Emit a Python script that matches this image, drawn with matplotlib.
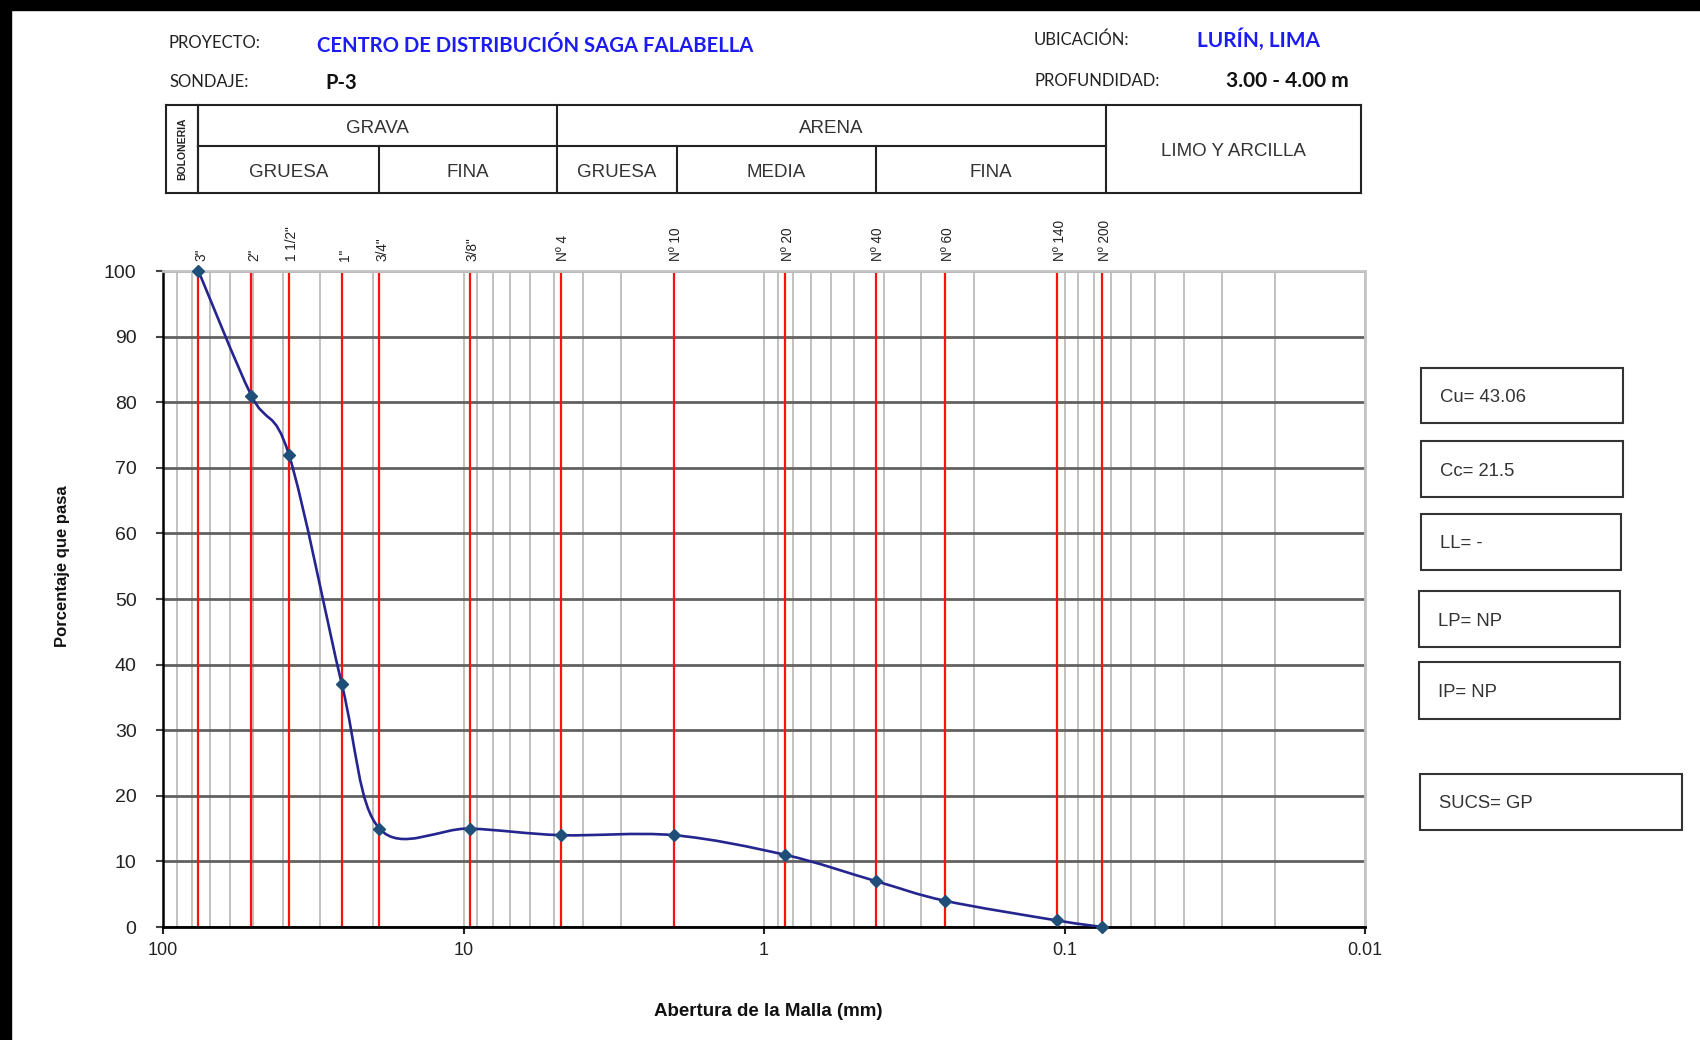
import matplotlib
matplotlib.use("Agg")
import matplotlib.pyplot as plt
import matplotlib.transforms as mtransforms
from matplotlib.path import Path
from matplotlib.patches import PathPatch, Rectangle
from matplotlib.ticker import FixedLocator, LogLocator, NullFormatter, FixedFormatter
import numpy as np

# datos del ensayo granulometrico (P-3)
tamices = ['3"', '2"', '1 1/2"', '1"', '3/4"', '3/8"', 'Nº 4', 'Nº 10',
           'Nº 20', 'Nº 40', 'Nº 60', 'Nº 140', 'Nº 200']
abertura = [76.2, 50.8, 38.1, 25.4, 19.05, 9.525, 4.75, 2.0, 0.85, 0.425, 0.25, 0.106, 0.075]
pasa = [100, 81, 72, 37, 15, 15, 14, 14, 11, 7, 4, 1, 0]

# ejes
x_ticks = [100, 10, 1, 0.1, 0.01]
x_labels = ['100', '10', '1', '0.1', '0.01']
y_ticks = [0, 10, 20, 30, 40, 50, 60, 70, 80, 90, 100]

# tabla de clasificacion (limites en mm)
fila_sup = [('GRAVA', 76.2, 4.9), ('ARENA', 4.9, 0.073)]
fila_inf = [('GRUESA', 76.2, 19.05), ('FINA', 19.05, 4.9), ('GRUESA', 4.9, 1.95),
            ('MEDIA', 1.95, 0.425), ('FINA', 0.425, 0.073)]
bolo = ('BOLONERIA', 97.7, 76.2)
finos = ('LIMO Y ARCILLA', 0.073, 0.0103)

# resultados
resultados = ['Cu= 43.06', 'Cc= 21.5', 'LL= -', 'LP= NP', 'IP= NP', 'SUCS= GP']

W, H = 1700, 1040
fig = plt.figure(figsize=(17, 10.4), dpi=100)
fig.patch.set_facecolor('white')

def fx(px):
    return px / W

def fy(py):
    return 1 - py / H

ARIAL = 'Liberation Sans'
CALIBRI = 'Lato'

ax = fig.add_axes([fx(163), fy(927), fx(1365 - 163), (927 - 271) / H])
ax.set_xscale('log')
ax.set_xlim(100, 0.01)
ax.set_ylim(0, 100)
ax.set_axisbelow(True)

ax.xaxis.set_major_locator(FixedLocator(x_ticks))
ax.xaxis.set_major_formatter(FixedFormatter(x_labels))
ax.xaxis.set_minor_locator(LogLocator(base=10, subs=np.arange(2, 10), numticks=20))
ax.xaxis.set_minor_formatter(NullFormatter())
ax.set_yticks(y_ticks)

ax.tick_params(axis='x', which='major', length=5, width=1.5, color='#222222',
               pad=6, labelsize=13, labelcolor='#222222')
ax.tick_params(axis='x', which='minor', length=0)
ax.tick_params(axis='y', length=5, width=1.5, color='#444444', pad=14,
               labelsize=14, labelcolor='#222222')
for lab in ax.get_xticklabels() + ax.get_yticklabels():
    lab.set_fontfamily(ARIAL)

ax.yaxis.grid(True, color='#616161', lw=2.0)
ax.xaxis.grid(True, which='both', color='#b0b0b0', lw=1.1)

for s in ['top', 'right']:
    ax.spines[s].set_color('#c4c4c4')
    ax.spines[s].set_linewidth(2)
ax.spines['left'].set_color('black')
ax.spines['left'].set_linewidth(1.8)
ax.spines['bottom'].set_color('black')
ax.spines['bottom'].set_linewidth(2)

# lineas rojas de tamices
for a in abertura:
    ax.axvline(a, color='#ff1010', lw=1.6, zorder=2)

# curva suavizada (tipo excel): bezier sobre log10(abertura)
pts = np.column_stack([np.log10(abertura), pasa]).astype(float)
n = len(pts)
verts = [pts[0]]
codes = [Path.MOVETO]
for i in range(n - 1):
    p0 = pts[i - 1] if i > 0 else pts[i]
    p1 = pts[i]
    p2 = pts[i + 1]
    p3 = pts[i + 2] if i + 2 < n else pts[i + 1]
    verts += [p1 + (p2 - p0) / 6, p2 - (p3 - p1) / 6, p2]
    codes += [Path.CURVE4] * 3
verts = np.array(verts)
verts[:, 0] = 10 ** verts[:, 0]
ax.add_patch(PathPatch(Path(verts, codes), fill=False, edgecolor='#25258f', lw=1.9, zorder=4))
ax.plot(abertura, pasa, 'D', ms=6, color='#1f4e79', zorder=5, clip_on=False)

# etiquetas de tamices
for t, a in zip(tamices, abertura):
    ax.annotate(t, xy=(a, 1), xycoords=('data', 'axes fraction'), xytext=(2, 7),
                textcoords='offset points', rotation=90, ha='center', va='bottom',
                fontsize=9.8, family=ARIAL, color='#222222')

# titulos de ejes
fig.text(fx(768), fy(1011), 'Abertura de la Malla (mm)', ha='center', va='center',
         fontsize=13.5, fontweight='bold', family=ARIAL, color='#111111')
fig.text(fx(63), fy(566), 'Porcentaje que pasa', ha='center', va='center', rotation=90,
         fontsize=12, fontweight='bold', family=ARIAL, color='#111111')

# tabla de clasificacion
tb = mtransforms.blended_transform_factory(ax.transData, fig.transFigure)
y_top, y_mid, y_bot = fy(105), fy(146), fy(193)
lc = '#222222'
lw_t = 1.5

def hline(x0, x1, y):
    ax.plot([x0, x1], [y, y], color=lc, lw=lw_t, transform=tb, clip_on=False)

def vline(x, y0, y1):
    ax.plot([x, x], [y0, y1], color=lc, lw=lw_t, transform=tb, clip_on=False)

hline(bolo[1], finos[2], y_top)
hline(bolo[1], finos[2], y_bot)
hline(fila_sup[0][1], fila_sup[-1][2], y_mid)
vline(bolo[1], y_bot, y_top)
vline(finos[2], y_bot, y_top)
vline(bolo[2], y_bot, y_top)
vline(finos[1], y_bot, y_top)
for _, a0, a1 in fila_sup:
    vline(a0, y_mid, y_top)
for _, a0, a1 in fila_inf:
    vline(a0, y_bot, y_mid)

def xmid(a0, a1):
    return 10 ** ((np.log10(a0) + np.log10(a1)) / 2)

dy = 3 / H
for t, a0, a1 in fila_sup:
    ax.text(xmid(a0, a1), (y_top + y_mid) / 2 - dy, t, transform=tb, ha='center', va='center',
            fontsize=13.5, family=ARIAL, color='#333333')
for t, a0, a1 in fila_inf:
    ax.text(xmid(a0, a1), (y_mid + y_bot) / 2 - dy, t, transform=tb, ha='center', va='center',
            fontsize=13.5, family=ARIAL, color='#333333')
ax.text(xmid(finos[1], finos[2]), (y_top + y_bot) / 2 - dy, finos[0], transform=tb,
        ha='center', va='center', fontsize=13.5, family=ARIAL, color='#333333')
ax.text(xmid(bolo[1], bolo[2]), (y_top + y_bot) / 2, bolo[0], transform=tb, rotation=90,
        ha='center', va='center', fontsize=7.5, fontweight='bold', family=ARIAL, color='#222222')

# encabezado
def head(x, y, s, **kw):
    fig.text(fx(x), fy(y), s, va='baseline', **kw)

head(168, 48, 'PROYECTO:', fontsize=12, family=CALIBRI, color='#222222')
head(317, 52, 'CENTRO DE DISTRIBUCIÓN SAGA FALABELLA', fontsize=14.6, fontweight='bold',
     family=CALIBRI, color='#1c1cf0')
head(170, 87, 'SONDAJE:', fontsize=12, family=CALIBRI, color='#222222')
head(325, 89, 'P-3', fontsize=14.5, fontweight='bold', family=CALIBRI, color='#111111')
head(1034, 45, 'UBICACIÓN:', fontsize=12, family=CALIBRI, color='#222222')
head(1197, 47, 'LURÍN, LIMA', fontsize=15, fontweight='bold', family=CALIBRI, color='#1c1cf0')
head(1034, 86, 'PROFUNDIDAD:', fontsize=12, family=CALIBRI, color='#222222')
head(1226, 87, '3.00 - 4.00 m', fontsize=15, fontweight='bold', family=CALIBRI, color='#111111')

# cuadros de resultados
cajas = [(1421, 368, 1623, 423), (1421, 441, 1623, 497), (1421, 514, 1621, 570),
         (1419, 591, 1620, 647), (1419, 662, 1620, 719), (1420, 774, 1682, 830)]
for s, (x0, y0, x1, y1) in zip(resultados, cajas):
    fig.patches.append(Rectangle((fx(x0), fy(y1)), fx(x1 - x0), (y1 - y0) / H,
                                 transform=fig.transFigure, fill=False,
                                 edgecolor='#333333', lw=1.5))
    fig.text(fx(x0 + 19), fy((y0 + y1) / 2 + 2), s, ha='left', va='center',
             fontsize=13.3, family=ARIAL, color='#333333')

# marco negro de la hoja
fig.patches.append(Rectangle((0, fy(10)), 1, 10 / H, transform=fig.transFigure,
                             color='black', zorder=10))
fig.patches.append(Rectangle((0, 0), fx(11), 1, transform=fig.transFigure,
                             color='black', zorder=10))

fig.savefig('out.png', dpi=100)
